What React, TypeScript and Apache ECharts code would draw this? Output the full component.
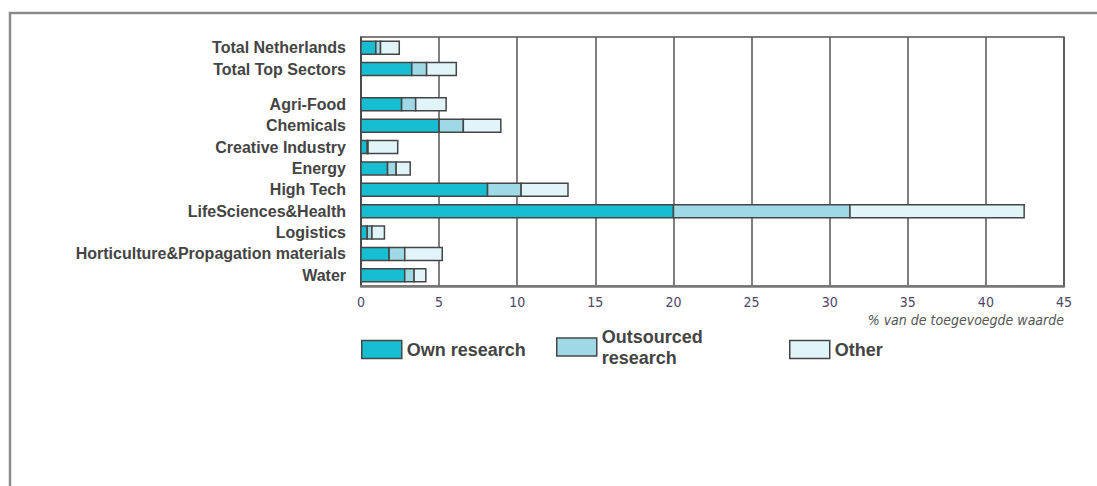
import React, { useEffect, useRef } from "react";
import * as echarts from "echarts";

const categories = [
  "Total Netherlands",
  "Total Top Sectors",
  "Agri-Food",
  "Chemicals",
  "Creative Industry",
  "Energy",
  "High Tech",
  "LifeSciences&Health",
  "Logistics",
  "Horticulture&Propagation materials",
  "Water",
];
// row positions on the vertical value axis (gap after the two totals)
const rowPositions = [0, 1, 2.65, 3.65, 4.65, 5.65, 6.65, 7.65, 8.65, 9.65, 10.65];

const ownResearch = [0.95, 3.25, 2.6, 5.0, 0.4, 1.7, 8.1, 20.0, 0.4, 1.8, 2.8];
const outsourcedResearch = [0.3, 0.95, 0.9, 1.55, 0.05, 0.55, 2.15, 11.3, 0.3, 1.0, 0.6];
const otherResearch = [1.2, 1.9, 1.95, 2.4, 1.9, 0.9, 3.0, 11.15, 0.8, 2.4, 0.75];

const seriesNames = ["Own research", "Outsourced\nresearch", "Other"];
const seriesColors = ["#17bed2", "#9ed9e5", "#e1f4f8"];
const xTicks = [0, 5, 10, 15, 20, 25, 30, 35, 40, 45];
const axisTitle = "% van de toegevoegde waarde";

export default function App() {
  const ref = useRef<HTMLDivElement>(null);

  useEffect(() => {
    if (!ref.current) return;
    const chart = echarts.init(ref.current, undefined, { renderer: "svg" });

    const layers = [ownResearch, outsourcedResearch, otherResearch];
    const seriesData = layers.map((vals, li) =>
      vals.map((v, i) => {
        let start = 0;
        for (let k = 0; k < li; k++) start += layers[k][i];
        return [start, start + v, rowPositions[i]];
      })
    );

    const barH = 13;
    const series = seriesData.map((data, li) => ({
      type: "custom",
      name: seriesNames[li],
      data,
      encode: { x: [0, 1], y: 2 },
      itemStyle: { color: seriesColors[li], borderColor: "#444", borderWidth: 1.5 },
      renderItem: (params: any, api: any) => {
        const s = api.value(0);
        const e = api.value(1);
        const p = api.value(2);
        const c0 = api.coord([s, p]);
        const c1 = api.coord([e, p]);
        return {
          type: "rect",
          shape: { x: c0[0], y: c0[1] - barH / 2, width: c1[0] - c0[0], height: barH },
          style: { fill: seriesColors[li], stroke: "#454545", lineWidth: 1.5 },
        };
      },
    }));

    const legendCommon = {
      orient: "horizontal",
      icon: "rect",
      padding: 0,
      itemWidth: 40,
      itemHeight: 18,
      itemStyle: { borderColor: "#454545", borderWidth: 1.5 },
      textStyle: {
        fontFamily: "Liberation Sans, Arial, sans-serif",
        fontWeight: "bold",
        fontSize: 18,
        color: "#444",
        lineHeight: 21,
      },
      selectedMode: false,
    };

    chart.setOption({
      animation: false,
      grid: {
        left: 361,
        right: 33,
        top: 37,
        bottom: 200,
        show: true,
        borderColor: "#555",
        borderWidth: 1.5,
        containLabel: false,
      },
      legend: [
        { ...legendCommon, data: [seriesNames[0]], left: 361, top: 339 },
        { ...legendCommon, data: [seriesNames[1]], left: 556, top: 326 },
        { ...legendCommon, data: [seriesNames[2]], left: 789, top: 339 },
      ],
      xAxis: {
        type: "value",
        min: 0,
        max: 45,
        interval: 5,
        axisLine: { show: true, onZero: false, lineStyle: { color: "#777", width: 2.5 } },
        axisTick: { show: false },
        splitLine: { show: true, lineStyle: { color: "#555", width: 1.5 } },
        axisLabel: {
          margin: 9,
          fontFamily: "DejaVu Sans Condensed, Liberation Sans Narrow, sans-serif",
          fontSize: 14,
          color: "#4d4468",
          customValues: xTicks,
        },
      },
      yAxis: {
        type: "value",
        inverse: true,
        min: -0.5,
        max: 11.15,
        axisLine: { show: true, onZero: false, lineStyle: { color: "#444", width: 1.5 } },
        axisTick: { show: false, customValues: rowPositions },
        splitLine: { show: false },
        axisLabel: {
          customValues: rowPositions,
          margin: 15,
          fontFamily: "Liberation Sans, Arial, sans-serif",
          fontWeight: "bold",
          fontSize: 16,
          color: "#444",
          formatter: (v: number) => {
            const idx = rowPositions.findIndex((p) => Math.abs(p - v) < 1e-6);
            return idx >= 0 ? categories[idx] : "";
          },
        },
      },
      graphic: [
        {
          type: "rect",
          shape: { x: 10, y: 13, width: 1200, height: 600 },
          style: { fill: "none", stroke: "#8a8a8a", lineWidth: 2.5 },
          silent: true,
        },
        {
          type: "text",
          right: 33,
          top: 313,
          style: {
            text: axisTitle,
            fontFamily: "DejaVu Sans Condensed, sans-serif",
            fontStyle: "italic",
            fontSize: 14,
            fill: "#555",
          },
        },
      ],
      series,
    });

    return () => chart.dispose();
  }, []);

  return (
    <div
      ref={ref}
      style={{ position: "fixed", left: 0, top: 0, width: 1097, height: 486, background: "#fff" }}
    />
  );
}
